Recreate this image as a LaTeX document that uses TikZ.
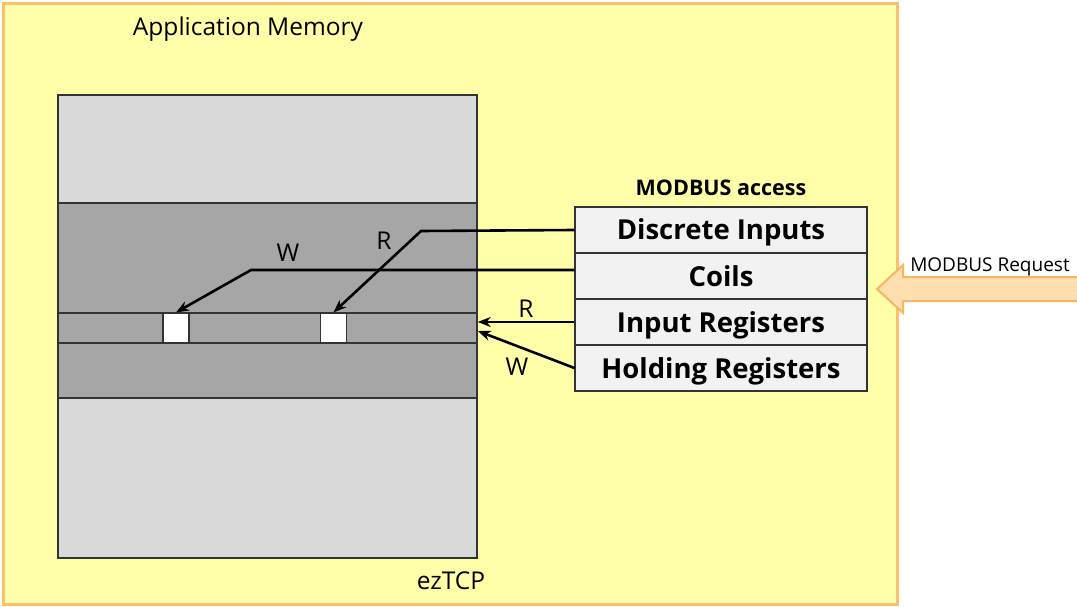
\documentclass[tikz,border=0pt]{standalone}
\usepackage{fontspec}
\setmainfont{Open Sans}
\usetikzlibrary{arrows.meta}
\definecolor{bgyellow}{RGB}{255,255,170}
\definecolor{bgorange}{RGB}{250,192,110}
\definecolor{lgray}{RGB}{217,217,217}
\definecolor{dgray}{RGB}{166,166,166}
\definecolor{rowfill}{RGB}{242,242,242}
\definecolor{peach}{RGB}{255,222,176}
\definecolor{arrorange}{RGB}{248,182,96}
\tikzset{
  rowbox/.style={draw=black!80, line width=1.2pt, fill=rowfill, minimum width=292pt, minimum height=46pt, inner sep=0pt, text height=24pt, text depth=4pt, font=\fontsize{27.5}{30}\selectfont\bfseries},
  cell/.style={draw=black!80, line width=1.2pt, fill=white, minimum width=26pt, minimum height=30pt, inner sep=0pt},
  conn/.style={line width=2.6pt, -{Stealth[length=13pt,width=10pt]}},
  lbl/.style={font=\fontsize{24.5}{26}\selectfont, inner sep=0pt},
}
\begin{document}
\begin{tikzpicture}[x=1pt,y=-1pt]
\useasboundingbox (0,0) rectangle (1077,607);
% outer application memory
\draw[draw=bgorange, line width=3pt, fill=bgyellow] (3,4) rectangle (897,604);
\node[lbl] (title) at (248,29) {Application Memory};
\node[lbl] (ez) at (451,581) {ezTCP};
% memory block
\draw[draw=black!80, line width=1.5pt, fill=lgray] (58,95) rectangle (477,558);
\draw[draw=black!80, line width=1.5pt, fill=dgray] (58,203) rectangle (477,398);
\node[draw=black!80, line width=1.5pt, fill=dgray, minimum width=419pt, minimum height=30pt, inner sep=0pt] (strip) at (267.5,328) {};
\node[cell] (c1) at (176,328) {};
\node[cell] (c2) at (333.5,328) {};
% MODBUS access table
\node[font=\fontsize{21.5}{23}\selectfont\bfseries, inner sep=0pt] (mtitle) at (721,188) {MODBUS access};
\node[rowbox] (di) at (721,230) {Discrete Inputs};
\node[rowbox] (co) at (721,276) {Coils};
\node[rowbox] (ir) at (721,322) {Input Registers};
\node[rowbox] (hr) at (721,368) {Holding Registers};
% connectors
\draw[conn] (di.west) -- (421,231) -- (c2.north);
\draw[conn] ([yshift=6pt]co.west) -- (251,270) -- (c1.north);
\draw[conn] (ir.west) -- (strip.east |- ir.west);
\draw[conn] (hr.west) -- (strip.east |- 0,331);
\node[lbl] (rl) at (384,241) {R};
\node[lbl] (wl) at (288,253) {W};
\node[lbl] (rr) at (526,309) {R};
\node[lbl] (wr) at (517,367) {W};
% MODBUS request fat arrow
\draw[draw=arrorange, line width=2pt, fill=peach]
  (877,289) -- (903,265) -- (903,277) -- (1080,277) -- (1080,301) -- (903,301) -- (903,313) -- cycle;
\node[font=\fontsize{19}{21}\selectfont, inner sep=0pt] (req) at (990,267) {MODBUS Request};
\end{tikzpicture}
\end{document}
